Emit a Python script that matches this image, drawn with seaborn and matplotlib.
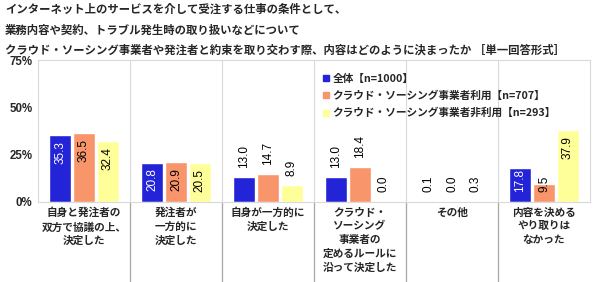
import matplotlib
matplotlib.use("Agg")
import matplotlib.pyplot as plt
from matplotlib.lines import Line2D
import seaborn as sns
import pandas as pd

categories = [
    "自身と発注者の\n双方で協議の上、\n決定した",
    "発注者が\n一方的に\n決定した",
    "自身が一方的に\n決定した",
    "クラウド・\nソーシング\n事業者の\n定めるルールに\n沿って決定した",
    "その他",
    "内容を決める\nやり取りは\nなかった",
]
series_names = [
    "全体【n=1000】",
    "クラウド・ソーシング事業者利用【n=707】",
    "クラウド・ソーシング事業者非利用【n=293】",
]
values_all = [35.3, 20.8, 13.0, 13.0, 0.1, 17.8]
values_users = [36.5, 20.9, 14.7, 18.4, 0.0, 9.5]
values_nonusers = [32.4, 20.5, 8.9, 0.0, 0.3, 37.9]
label_inside_all = [True, True, False, False, False, True]
label_inside_users = [True, True, False, False, False, True]
label_inside_nonusers = [True, True, False, False, False, True]
yticks = [0, 25, 50, 75]
ytick_labels = ["0%", "25%", "50%", "75%"]
title_lines = [
    "インターネット上のサービスを介して受注する仕事の条件として、",
    "業務内容や契約、トラブル発生時の取り扱いなどについて",
    "クラウド・ソーシング事業者や発注者と約束を取り交わす際、内容はどのように決まったか ［単一回答形式］",
]
colors = ["#2323D8", "#F9956A", "#FFFF99"]

sns.set_style("white")
JP = ["Noto Sans CJK JP", "DejaVu Sans"]
plt.rcParams["font.family"] = JP

W, H = 600, 282
fig = plt.figure(figsize=(W / 100, H / 100), dpi=100)
ax_left, ax_right, ax_top, ax_bot = 38, 590, 60, 202
ax = fig.add_axes([ax_left / W, (H - ax_bot) / H, (ax_right - ax_left) / W, (ax_bot - ax_top) / H])

rows = []
all_vals = [values_all, values_users, values_nonusers]
for s, vals in zip(series_names, all_vals):
    for c, v in zip(categories, vals):
        rows.append({"cat": c, "series": s, "value": v})
df = pd.DataFrame(rows)

sns.barplot(data=df, x="cat", y="value", hue="series", hue_order=series_names,
            order=categories, palette=colors, saturation=1, width=0.78, gap=0.11,
            ax=ax, legend=False, errorbar=None)

ax.set_xlim(-0.5, len(categories) - 0.5)
ax.set_ylim(0, 75)
ax.set_xlabel("")
ax.set_ylabel("")
ax.set_yticks(yticks)
ax.set_yticklabels(ytick_labels, fontsize=8.3, fontweight="bold", family=["Liberation Sans"])
ax.tick_params(axis="y", length=0, pad=4)
ax.tick_params(axis="x", length=0, pad=4)
ax.set_xticks(range(len(categories)))
ax.set_xticklabels(categories, fontsize=7.7, fontweight="bold", linespacing=1.45, va="top")

for sp in ax.spines.values():
    sp.set_color("#D9D9D9")
    sp.set_linewidth(0.8)

# category separators
for i in range(len(categories) - 1):
    x = i + 0.5
    ax.plot([x, x], [0, 75], color="#D9D9D9", lw=0.8, zorder=0)
    ax.plot([x, x], [0, -80 / (142 / 75)], color="#A6A6A6", lw=0.9, clip_on=False, zorder=0)

# data labels
px_per_unit = (ax_bot - ax_top) / 75.0
inside_flags = [label_inside_all, label_inside_users, label_inside_nonusers]
label_fs = 8.5
em = label_fs * 100 / 72
for si, container in enumerate(ax.containers):
    vals = all_vals[si]
    for bi, bar in enumerate(container):
        v = vals[bi]
        txt = f"{v:.1f}"
        tlen = sum(0.278 if ch == "." else 0.556 for ch in txt) * em
        xc = bar.get_x() + bar.get_width() / 2
        h_px = v * px_per_unit
        if inside_flags[si][bi]:
            color = "white" if si == 0 else "black"
            if h_px - 6 - tlen >= 10:
                ax.annotate(txt, (xc, v), xytext=(0, -6 * 0.72), textcoords="offset points",
                            rotation=90, ha="center", va="top", fontsize=label_fs,
                            color=color, family=["Liberation Sans"])
            else:
                ax.annotate(txt, (xc, 0), xytext=(0, 10 * 0.72), textcoords="offset points",
                            rotation=90, ha="center", va="bottom", fontsize=label_fs,
                            color=color, family=["Liberation Sans"])
        else:
            ax.annotate(txt, (xc, v), xytext=(0, 9.5 * 0.72), textcoords="offset points",
                        rotation=90, ha="center", va="bottom", fontsize=label_fs,
                        color="black", family=["Liberation Sans"])

# legend
handles = [Line2D([0], [0], marker="s", linestyle="none", markersize=4.5,
                  markerfacecolor=c, markeredgecolor=c) for c in colors]
leg = fig.legend(handles, series_names, loc="upper left",
                 bbox_to_anchor=(323 / W, 1 - 74 / H), frameon=False,
                 fontsize=7.7, handlelength=0.6, handletextpad=0.3,
                 labelspacing=0.62, borderaxespad=0, borderpad=0)
for t in leg.get_texts():
    t.set_fontweight("bold")

# title
for y, line in zip([9, 30, 50], title_lines):
    fig.text(5 / W, 1 - y / H, line, ha="left", va="center", fontsize=8.2,
             fontweight="bold", family=JP)

fig.savefig("out.png", dpi=100)
